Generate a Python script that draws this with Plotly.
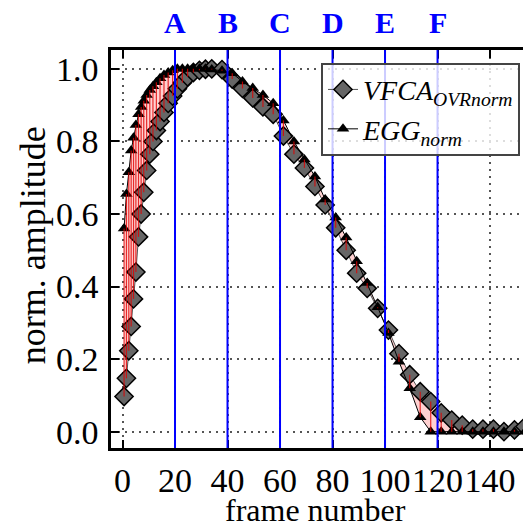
import plotly.graph_objects as go

# frame positions of the samples
frames = [0.6, 1.5, 2.4, 3.3, 4.2, 5.1, 6.1, 7.1, 8.1, 9.2, 10.4, 11.6, 12.9, 14.3, 15.8,
          17.4, 19.1, 20.9, 22.8, 24.8, 27.0, 29.3, 31.6,
          34.0, 37.9, 41.8, 45.7, 49.6, 53.5, 57.4, 61.3, 65.3, 69.3, 73.3, 77.2, 81.2,
          85.2, 89.2, 93.2, 97.2, 101.3, 105.3, 109.4, 113.4, 117.4, 121.4, 125.4, 129.4,
          133.4, 137.3, 141.3, 145.3, 149.3, 153.3]

vfca = [0.097, 0.147, 0.223, 0.29, 0.366, 0.44, 0.537, 0.60, 0.66, 0.72, 0.765, 0.80, 0.83,
        0.855, 0.88, 0.905, 0.925, 0.945, 0.962, 0.978, 0.99, 0.996, 0.999,
        1.0, 0.998, 0.972, 0.946, 0.92, 0.895, 0.875, 0.815, 0.765, 0.727, 0.676, 0.625,
        0.562, 0.50, 0.437, 0.395, 0.34, 0.28, 0.215, 0.157, 0.11, 0.083, 0.052, 0.032,
        0.018, 0.007, 0.007, 0.007, 0.0, 0.005, 0.014]

egg = [0.56, 0.655, 0.715, 0.775, 0.81, 0.845, 0.875, 0.895, 0.912, 0.928, 0.942, 0.952,
       0.963, 0.974, 0.983, 0.99, 0.996, 1.0, 1.0, 1.0, 1.0, 1.0, 1.0,
       0.998, 0.995, 0.988, 0.965, 0.947, 0.928, 0.905, 0.858, 0.80, 0.75, 0.703, 0.64,
       0.59, 0.535, 0.47, 0.41, 0.343, 0.272, 0.193, 0.12, 0.04, 0.0, 0.0, 0.0, 0.0,
       0.0, 0.0, 0.0, 0.0, 0.0, 0.0]

# phase markers on top
phase_frames = [20, 40, 60, 80, 100, 120]
phase_labels = ["A", "B", "C", "D", "E", "F"]

x_ticks = [0, 20, 40, 60, 80, 100, 120, 140]
y_ticks = [0.0, 0.2, 0.4, 0.6, 0.8, 1.0]

SERIF = "Liberation Serif, Times New Roman, serif"

fig = go.Figure()

# light red band between the two curves
fig.add_trace(go.Scatter(x=frames + frames[::-1], y=egg + vfca[::-1], fill="toself",
                         fillcolor="rgba(255,90,90,0.28)", line=dict(width=0),
                         hoverinfo="skip", showlegend=False))

fig.add_trace(go.Scatter(x=frames, y=vfca, mode="lines+markers",
                         name="<i>VFCA<sub>OVRnorm</sub></i>",
                         line=dict(color="#555555", width=1),
                         marker=dict(symbol="diamond", size=14, color="#666666",
                                     line=dict(color="black", width=1.5))))

fig.add_trace(go.Scatter(x=frames, y=egg, mode="lines+markers",
                         name="<i>EGG<sub>norm</sub></i>",
                         line=dict(color="black", width=1),
                         marker=dict(symbol="triangle-up", size=11, color="black")))

# red difference lines, one per sample
dx, dy = [], []
for f, a, b in zip(frames, vfca, egg):
    dx += [f, f, None]
    dy += [a, b, None]
fig.add_trace(go.Scatter(x=dx, y=dy, mode="lines", line=dict(color="rgba(225,0,0,0.8)", width=1.2),
                         hoverinfo="skip", showlegend=False))

for f, lab in zip(phase_frames, phase_labels):
    fig.add_shape(type="line", x0=f, x1=f, y0=0, y1=1, yref="paper",
                  line=dict(color="#0000ff", width=2), layer="above")
    fig.add_annotation(x=f, y=1.07, yref="paper", text="<b>%s</b>" % lab, showarrow=False,
                       yanchor="middle", font=dict(family=SERIF, size=30, color="#0000ff"))

# axis titles placed by hand
fig.add_annotation(x=0.486, y=-0.157, xref="paper", yref="paper", text="frame number",
                   showarrow=False, yanchor="middle",
                   font=dict(family=SERIF, size=32, color="black"))
fig.add_annotation(x=-0.185, y=0.51, xref="paper", yref="paper", text="norm. amplitude",
                   showarrow=False, textangle=-90, xanchor="center", yanchor="middle",
                   font=dict(family=SERIF, size=36, color="black"))

axis_common = dict(showline=True, linecolor="black", linewidth=2.5, mirror="ticks",
                   ticks="inside", ticklen=8, tickwidth=2, tickcolor="black",
                   showgrid=True, gridcolor="#555555", gridwidth=1.5, griddash="2px,5px",
                   zeroline=False, automargin=False,
                   tickfont=dict(family=SERIF, size=34, color="black"))

fig.update_xaxes(range=[-4.38, 155.6], tickvals=x_ticks, ticktext=[str(t) for t in x_ticks],
                 tickangle=0, ticklabelstandoff=0, **axis_common)
fig.update_yaxes(range=[-0.045, 1.052], tickvals=y_ticks, ticktext=["%.1f" % t for t in y_ticks],
                 ticklabelstandoff=3, **axis_common)

# the page body adds an 8px offset, so the figure is 8px smaller than the window
fig.update_layout(
    width=523, height=516,
    margin=dict(l=103, r=0, t=42, b=76),
    paper_bgcolor="white", plot_bgcolor="white",
    legend=dict(x=0.5, y=0.968, xanchor="left", yanchor="top",
                bgcolor="rgba(255,255,255,0.8)", bordercolor="#444444", borderwidth=2,
                tracegroupgap=0, itemwidth=30,
                font=dict(family=SERIF, size=28, color="black")),
)

fig.write_html("out.html")
